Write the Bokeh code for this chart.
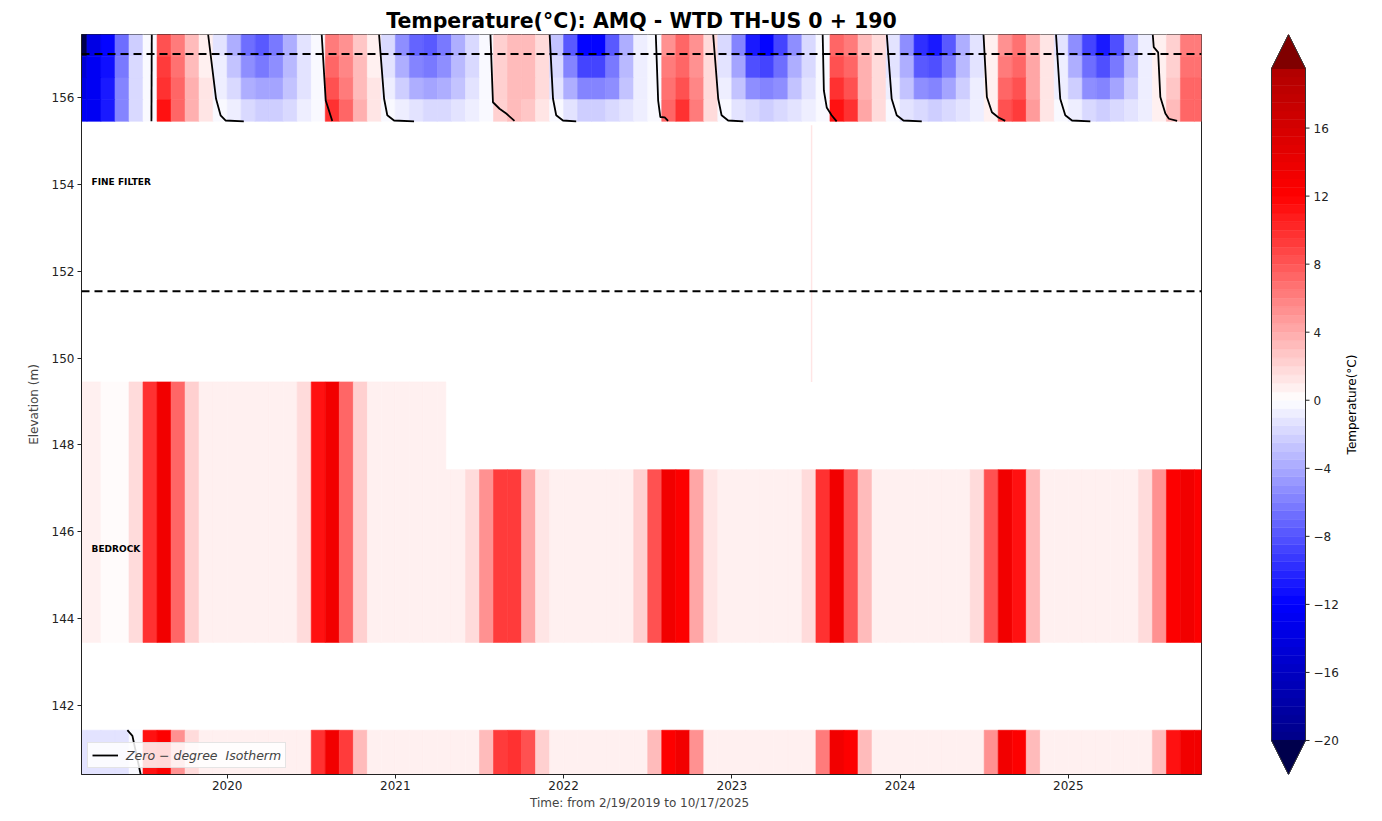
import math
from bokeh.plotting import figure
from bokeh.models import (ColumnDataSource, LinearColorMapper, FixedTicker, Span,
                          Legend, LegendItem, CustomJSTickFormatter, Range1d)
from bokeh.layouts import row
from bokeh.embed import file_html
from bokeh.resources import INLINE
from bokeh.core.properties import value
from bokeh.transform import transform

FONT = "DejaVu Sans"

TITLE = "Temperature(°C): AMQ - WTD TH-US 0 + 190"
X_LABEL = "Time: from 2/19/2019  to 10/17/2025"
Y_LABEL = "Elevation (m)"
CB_LABEL = "Temperature(°C)"
LEGEND_LABEL = "Zero \u2212 degree  Isotherm"
ZONE_NAMES = ["FINE FILTER", "BEDROCK"]
ZONE_NAME_ELEV = [154.05, 145.6]

# ---- time span (decimal years) and elevations (m)
START = 2019 + 49 / 365      # 2/19/2019
END = 2025 + 289 / 365       # 10/17/2025
Y_MIN, Y_MAX = 140.41, 157.45
X_TICKS = [2020, 2021, 2022, 2023, 2024, 2025]
Y_TICKS = [142, 144, 146, 148, 150, 152, 154, 156]
SURFACE_ELEV = 157.0
FILTER_BASE_ELEV = 151.54
TOP_LAYER_EDGES = [157.45, 156.95, 156.45, 155.95, 155.45]
BEDROCK_TOP_EARLY = 149.45
BEDROCK_TOP_LATE = 147.43
BEDROCK_TOP_CHANGE = 2021.30
BEDROCK_BOTTOM = 143.45
DEEP_TOP = 141.43
DEEP_BOTTOM = 140.41
FILTER_TRACE_DATE = 2023.474
FILTER_TRACE_TOP = 155.36
FILTER_TRACE_BOTTOM = 149.45
FILTER_TRACE_VALUE = 1.2

# ---- monthly temperatures (°C), Feb 2019 ... Oct 2025
TOP_L1 = [-21, -14, -12, -7, -2.5, -0.3, 8, 6, 3, 1, -1.5,
          -4, -7, -8, -6.5, -4, -1.5, -0.5, 6, 5, 2.5, 1, -2,
          -5, -7.5, -8, -6.5, -4, -2, -0.5, 2, 3, 3, 1.5, -3,
          -8, -12, -12, -8, -4, -1, -0.3, 5, 7, 5, 1.5, -2,
          -6, -11, -12, -9, -5, -2, -0.5, 7, 6, 3, 1.5, -1.5,
          -5, -10, -11, -8, -4, -1.2, 1, 5, 6.5, 3.5, 1.2, -1.5,
          -5, -9, -11, -8.5, -4, -1, 0.5, 2, 6, 6]
TOP_L2 = [-15, -13, -11.5, -6.5, -2, -0.3, 9, 6.5, 3, 1, -1,
          -3, -5.5, -6.5, -5.5, -3.5, -1.5, -0.5, 7, 5.5, 3, 1, -1.5,
          -4, -6, -6.5, -5, -3.5, -1.8, -0.5, 2, 3, 3, 1.5, -2,
          -6, -9, -9, -6.5, -3.5, -1, -0.3, 6, 7.5, 5, 1.5, -1.5,
          -4.5, -8.5, -9, -7, -4, -1.8, -0.5, 8, 7, 3.5, 1.5, -1.2,
          -4, -8, -8.5, -6.5, -3.5, -1.2, 1, 6, 7.5, 4, 1.2, -1,
          -4, -7, -8.5, -6.5, -3.5, -1, 0.5, 2, 6.5, 6.5]
TOP_L3 = [-14, -12.5, -11, -6, -2, -0.3, 10, 7, 3.5, 1.2, -0.8,
          -2, -4, -4.5, -4.5, -3, -1.2, -0.4, 8, 6, 3, 1.2, -1,
          -2.5, -4, -4.5, -4, -3, -1.5, -0.5, 2.2, 3.2, 3, 1.5, -1.2,
          -4, -6, -6, -5, -3, -1, -0.3, 6.5, 8, 5.5, 1.5, -1,
          -3, -5.5, -6, -5, -3, -1.5, -0.5, 9.5, 8, 3.5, 1.5, -1,
          -3, -5.5, -6, -4.5, -2.5, -1, 1, 7, 8, 4, 1.2, -0.8,
          -2.5, -5, -6, -4.5, -2.5, -1, 0.5, 2.5, 7, 7]
TOP_L4 = [-13, -12.5, -11, -6, -2, -0.3, 11, 7.5, 3.5, 1.2, -0.5,
          -1, -2, -2.5, -2.5, -2, -1, -0.3, 9.5, 7, 3.5, 1.2, -0.5,
          -1, -1.5, -2, -2, -1.5, -1, -0.5, 2, 3, 2.5, 1.2, -0.5,
          -1.5, -2.5, -2.5, -2, -1.5, -0.8, -0.3, 7, 9.5, 6, 1.5, -0.5,
          -1.2, -2, -2.5, -2, -1.5, -1, -0.3, 11, 9.5, 4, 1.5, -0.5,
          -1.2, -2, -2.5, -2, -1.5, -0.8, 1, 8, 9, 4.5, 1.2, -0.5,
          -1, -2, -2.5, -2, -1.5, -0.8, 0.5, 3, 7.5, 7.5]
BEDROCK = [0.5, 0.5, 0.3, 0.3, 1.5, 10, 13, 7, 2, 1, 0.5,
           0.5, 0.5, 0.5, 0.5, 0.5, 1.5, 11, 13, 7, 2, 1, 0.5,
           0.5, 0.5, 0.5, 0.5, 0.5, 1.5, 5, 9, 9, 4, 1.2, 0.5,
           0.5, 0.5, 0.5, 0.5, 0.5, 2, 8, 13, 12, 4, 1.2, 0.5,
           0.5, 0.5, 0.5, 0.5, 0.5, 1.5, 10, 13, 8, 3, 1, 0.5,
           0.5, 0.5, 0.5, 0.5, 0.5, 1.5, 8, 13, 11, 3, 1, 0.5,
           0.5, 0.5, 0.5, 0.5, 0.5, 1.5, 5, 12, 13, 12]
DEEP = [-1.5, -1.5, -1.5, -1.5, -0.3, 11, 12, 5, 1.5, 0.8, 0.5,
        0.5, 0.5, 0.5, 0.5, 0.5, 0.5, 10, 13, 9, 3, 1, 0.5,
        0.5, 0.5, 0.5, 0.5, 0.5, 0.5, 3, 9, 10, 8, 2, 0.5,
        0.5, 0.5, 0.5, 0.5, 0.5, 0.5, 3, 12, 13, 5, 1, 0.5,
        0.5, 0.5, 0.5, 0.5, 0.5, 0.5, 6, 13, 12, 3, 1, 0.5,
        0.5, 0.5, 0.5, 0.5, 0.5, 0.5, 5, 13, 12, 3, 1, 0.5,
        0.5, 0.5, 0.5, 0.5, 0.5, 0.5, 3, 11, 13, 13]

# ---- zero-degree isotherm (decimal year, elevation)
FREEZE_ELEV = [157.45, 155.97, 155.59, 155.47, 155.45]
FREEZE_DATES = [
    [2019.887, 2019.934, 2019.961, 2019.990, 2020.099],
    [2020.903, 2020.933, 2020.952, 2020.992, 2021.111],
    [2021.917, 2021.937, 2021.956, 2021.996, 2022.075],
    [2022.889, 2022.919, 2022.939, 2022.978, 2023.068],
    [2023.921, 2023.950, 2023.980, 2024.020, 2024.129],
    [2024.927, 2024.952, 2024.982, 2025.022, 2025.131],
]
THAW_DATES = [
    [2019.552, 2019.550],
    [2020.562, 2020.586, 2020.625],
    [2021.565, 2021.580, 2021.619, 2021.659, 2021.708],
    [2022.548, 2022.562, 2022.575, 2022.601, 2022.621],
    [2023.540, 2023.547, 2023.564, 2023.593, 2023.623],
    [2024.496, 2024.516, 2024.546, 2024.585, 2024.625],
    [2025.502, 2025.508, 2025.534, 2025.547, 2025.577, 2025.598, 2025.647],
]
THAW_ELEV = [
    [157.45, 155.45],
    [157.45, 155.93, 155.46],
    [157.45, 155.89, 155.74, 155.63, 155.46],
    [157.45, 155.93, 155.55, 155.54, 155.46],
    [157.45, 156.16, 155.77, 155.59, 155.45],
    [157.45, 156.01, 155.66, 155.54, 155.46],
    [157.45, 157.16, 157.04, 156.01, 155.63, 155.51, 155.46],
]
DEEP_ISO_DATES = [2019.407, 2019.437, 2019.486]
DEEP_ISO_ELEV = [141.43, 141.30, 140.41]

# ---- colour scale
CB_LOW, CB_HIGH, CB_STEP = -20.0, 19.5, 0.5
CB_TICKS = [-20, -16, -12, -8, -4, 0, 4, 8, 12, 16]


def seismic(v, lim=24.0):
    t = min(max((v + lim) / (2 * lim), 0.0), 1.0)
    anchors = [(0.0, (0, 0, 76.5)), (0.25, (0, 0, 255)), (0.5, (255, 255, 255)),
               (0.75, (255, 0, 0)), (1.0, (127.5, 0, 0))]
    for (t0, c0), (t1, c1) in zip(anchors[:-1], anchors[1:]):
        if t <= t1:
            f = (t - t0) / (t1 - t0)
            return "#%02x%02x%02x" % tuple(int(round(a + (b - a) * f)) for a, b in zip(c0, c1))
    return "#800000"


N_BINS = int(round((CB_HIGH - CB_LOW) / CB_STEP))
PALETTE = [seismic(CB_LOW + CB_STEP * (i + 0.4)) for i in range(N_BINS)]
UNDER = seismic(-1000)
OVER = seismic(1000)
mapper = LinearColorMapper(palette=PALETTE, low=CB_LOW, high=CB_HIGH,
                           low_color=UNDER, high_color=OVER)

# ---- month cells
months = ([(2019, m) for m in range(2, 13)]
          + [(y, m) for y in range(2020, 2025) for m in range(1, 13)]
          + [(2025, m) for m in range(1, 11)])
m_left = [max(START, y + (m - 1) / 12) for y, m in months]
m_right = [min(END, y + m / 12) for y, m in months]

L, R, T, B, V = [], [], [], [], []
for layer, vals in enumerate([TOP_L1, TOP_L2, TOP_L3, TOP_L4]):
    for i in range(len(months)):
        L.append(m_left[i]); R.append(m_right[i])
        T.append(TOP_LAYER_EDGES[layer]); B.append(TOP_LAYER_EDGES[layer + 1])
        V.append(vals[i])
for i in range(len(months)):
    pieces = [(m_left[i], m_right[i])]
    if m_left[i] < BEDROCK_TOP_CHANGE < m_right[i]:
        pieces = [(m_left[i], BEDROCK_TOP_CHANGE), (BEDROCK_TOP_CHANGE, m_right[i])]
    for a, b in pieces:
        top = BEDROCK_TOP_EARLY if a < BEDROCK_TOP_CHANGE else BEDROCK_TOP_LATE
        L.append(a); R.append(b); T.append(top); B.append(BEDROCK_BOTTOM); V.append(BEDROCK[i])
    L.append(m_left[i]); R.append(m_right[i]); T.append(DEEP_TOP); B.append(DEEP_BOTTOM)
    V.append(DEEP[i])

cells = ColumnDataSource(dict(left=L, right=R, top=T, bottom=B, val=V))

FIG_H = 813
BORDER_TOP, BORDER_BOTTOM = 34, 39

p = figure(width=1233, height=FIG_H, x_range=Range1d(START, END), y_range=Range1d(Y_MIN, Y_MAX),
           output_backend="svg", toolbar_location=None, title=TITLE,
           min_border_left=81, min_border_right=32, min_border_top=BORDER_TOP,
           min_border_bottom=BORDER_BOTTOM)
p.title.align = "center"
p.title.text_font = FONT
p.title.text_font_size = "20.5px"
p.title.text_font_style = "bold"
p.title.text_color = "black"
p.title.standoff = 3
p.background_fill_color = "white"
p.border_fill_color = "white"
p.xgrid.visible = False
p.ygrid.visible = False
p.outline_line_color = "#222222"
p.outline_line_width = 1

p.quad(left="left", right="right", top="top", bottom="bottom", source=cells,
       fill_color=transform("val", mapper), line_color=transform("val", mapper), line_width=0.6)

p.segment(x0=[FILTER_TRACE_DATE], y0=[FILTER_TRACE_BOTTOM], x1=[FILTER_TRACE_DATE],
          y1=[FILTER_TRACE_TOP], line_color=seismic(FILTER_TRACE_VALUE), line_width=1.5)

for elev in [SURFACE_ELEV, FILTER_BASE_ELEV]:
    p.add_layout(Span(location=elev, dimension="width", line_color="black",
                      line_width=2, line_dash="8 5"))

iso_xs = FREEZE_DATES + THAW_DATES + [DEEP_ISO_DATES]
iso_ys = [FREEZE_ELEV] * len(FREEZE_DATES) + THAW_ELEV + [DEEP_ISO_ELEV]
iso = p.multi_line(xs=iso_xs, ys=iso_ys, line_color="black", line_width=1.8)

p.text(x=[START + 0.06] * 2, y=ZONE_NAME_ELEV, text=ZONE_NAMES, text_font=value(FONT),
       text_font_style="bold", text_font_size="9px", text_baseline="middle", text_color="black")

legend = Legend(items=[LegendItem(label=LEGEND_LABEL, renderers=[iso])], location="bottom_left")
legend.label_text_font = FONT
legend.label_text_font_style = "italic"
legend.label_text_font_size = "12.5px"
legend.padding = 4
legend.margin = 6
legend.glyph_height = 16
legend.glyph_width = 26
legend.label_height = 16
legend.label_standoff = 8
legend.background_fill_alpha = 0.85
legend.border_line_color = "#cccccc"
p.add_layout(legend)

for ax in (p.xaxis, p.yaxis):
    ax.axis_label_text_font = FONT
    ax.axis_label_text_font_size = "12px"
    ax.axis_label_text_font_style = "normal"
    ax.major_label_text_font = FONT
    ax.major_label_text_font_size = "12px"
    ax.major_label_text_color = "#222222"
    ax.axis_line_color = "#222222"
    ax.major_tick_line_color = "#222222"
    ax.major_tick_out = 4
    ax.major_tick_in = 0
    ax.minor_tick_out = 0
    ax.minor_tick_in = 0
p.xaxis.ticker = FixedTicker(ticks=X_TICKS)
p.yaxis.ticker = FixedTicker(ticks=Y_TICKS)
p.xaxis.formatter = CustomJSTickFormatter(code="return tick.toFixed(0);")
p.yaxis.formatter = CustomJSTickFormatter(code="return tick.toFixed(0);")
p.xaxis.axis_label = X_LABEL
p.yaxis.axis_label = Y_LABEL
p.xaxis.major_label_standoff = 2
p.xaxis.axis_label_standoff = 3
p.yaxis.major_label_standoff = 3
p.yaxis.axis_label_standoff = 8

# ---- colour bar (drawn in its own frame, in pixel-proportional units)
CB_W, CB_BAR_LEFT, CB_BAR_W = 141, 38, 34
EXT = 2.0
cb = figure(width=CB_W, height=FIG_H,
            x_range=Range1d(-CB_BAR_LEFT / CB_BAR_W, (CB_W - CB_BAR_LEFT) / CB_BAR_W),
            y_range=Range1d(CB_LOW - EXT, CB_HIGH + EXT),
            output_backend="svg", toolbar_location=None,
            min_border_left=0, min_border_right=0, min_border_top=BORDER_TOP,
            min_border_bottom=BORDER_BOTTOM)
cb.xaxis.visible = False
cb.yaxis.visible = False
cb.xgrid.visible = False
cb.ygrid.visible = False
cb.outline_line_color = None
cb.background_fill_color = "white"
cb.border_fill_color = "white"
bin_bottom = [CB_LOW + CB_STEP * i for i in range(N_BINS)]
cb.quad(left=0, right=1, bottom=bin_bottom, top=[b + CB_STEP for b in bin_bottom],
        fill_color=PALETTE, line_color=PALETTE, line_width=0.5)
cb.patches(xs=[[0, 1, 0.5], [0, 1, 0.5]],
           ys=[[CB_LOW, CB_LOW, CB_LOW - EXT], [CB_HIGH, CB_HIGH, CB_HIGH + EXT]],
           fill_color=[UNDER, OVER], line_color=[UNDER, OVER])
cb.line(x=[0, 0.5, 1, 1, 0.5, 0, 0],
        y=[CB_LOW, CB_LOW - EXT, CB_LOW, CB_HIGH, CB_HIGH + EXT, CB_HIGH, CB_LOW],
        line_color="#333333", line_width=1)
px = 1 / CB_BAR_W
cb.segment(x0=[1] * len(CB_TICKS), x1=[1 + 4 * px] * len(CB_TICKS), y0=CB_TICKS, y1=CB_TICKS,
           line_color="#222222", line_width=1)
tick_text = [("\u2212" if t < 0 else "") + str(abs(t)) for t in CB_TICKS]
cb.text(x=[1 + 8 * px] * len(CB_TICKS), y=CB_TICKS, text=tick_text, text_font=value(FONT),
        text_font_size="12px", text_baseline="middle", text_align="left", text_color="#222222")
cb.text(x=[1 + 46 * px], y=[(CB_LOW + CB_HIGH) / 2], text=[CB_LABEL], angle=math.pi / 2,
        text_font=value(FONT), text_font_size="12px", text_baseline="middle",
        text_align="center", text_color="black")

layout = row(p, cb)
open("out.html", "w").write(file_html(layout, INLINE))
